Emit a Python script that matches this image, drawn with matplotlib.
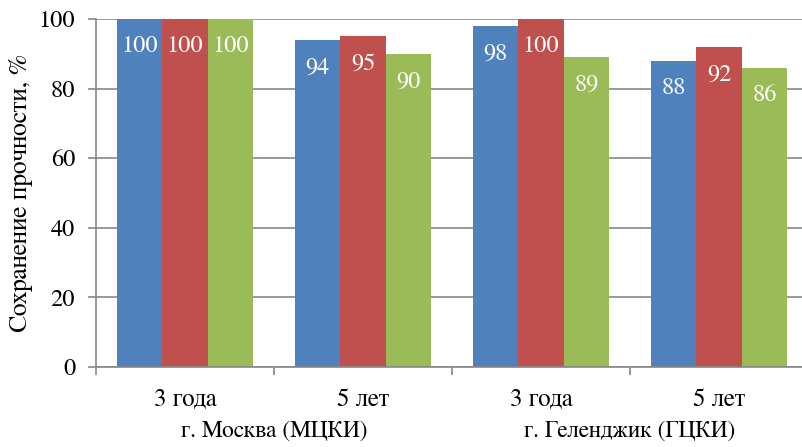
import numpy as np
import matplotlib.pyplot as plt

FONT = ['FreeSerif', 'Liberation Serif', 'DejaVu Serif']
plt.rcParams['font.family'] = FONT

periods = ["3 года", "5 лет", "3 года", "5 лет"]
sites = ["г. Москва (МЦКИ)", "г. Геленджик (ГЦКИ)"]
series_blue = [100, 94, 98, 88]
series_red = [100, 95, 100, 92]
series_green = [100, 90, 89, 86]
colors = ["#4F81BD", "#C0504D", "#9BBB59"]
yticks = [0, 20, 40, 60, 80, 100]

W, H = 803, 447
fig = plt.figure(figsize=(W / 100, H / 100), dpi=100)
left, right, top, bottom = 96, 808, 19, 367
ax = fig.add_axes([left / W, 1 - bottom / H, (right - left) / W, (bottom - top) / H])

x = np.arange(len(periods))
bw = 0.255
grid_c = "#878787"
for i, (vals, c) in enumerate(zip([series_blue, series_red, series_green], colors)):
    bars = ax.bar(x + (i - 1) * bw, vals, bw, color=c, zorder=3, linewidth=0)
    for b, v in zip(bars, vals):
        ax.annotate(str(v), (b.get_x() + b.get_width() / 2, v), xytext=(0, -20),
                    textcoords="offset points", ha="center", va="center",
                    color="white", fontsize=17.5, family=FONT, zorder=4)

ax.set_xlim(-0.5, len(periods) - 0.5)
ax.set_ylim(0, 100)
ax.set_yticks(yticks)
ax.yaxis.grid(True, color=grid_c, linewidth=1.2, zorder=0)
ax.tick_params(axis="y", length=6, width=1.2, color=grid_c, labelsize=17.5, pad=9)
for s in ["top", "right"]:
    ax.spines[s].set_visible(False)
for s in ["left", "bottom"]:
    ax.spines[s].set_color(grid_c)
    ax.spines[s].set_linewidth(1.2)
    ax.spines[s].set_zorder(5)

# separator ticks between categories
ax.set_xticks(np.arange(-0.5, len(periods), 1.0))
ax.set_xticklabels([])
ax.tick_params(axis="x", length=6, width=1.2, color=grid_c, direction="out")
ax.set_xticks(x, minor=True)
ax.set_xticklabels(periods, minor=True)
ax.tick_params(axis="x", which="minor", length=0, labelsize=18, pad=15)

for lbl in ax.get_yticklabels() + ax.get_xticklabels(minor=True):
    lbl.set_family(FONT)

for k, name in enumerate(sites):
    ax.text(2 * k + 0.5, -0.185, name, transform=ax.get_xaxis_transform(),
            ha="center", va="center", fontsize=16.8, family=FONT)

ax.set_ylabel("Сохранение прочности, %", fontsize=18.5, labelpad=4, family=FONT)

fig.savefig("out.png", dpi=100)
